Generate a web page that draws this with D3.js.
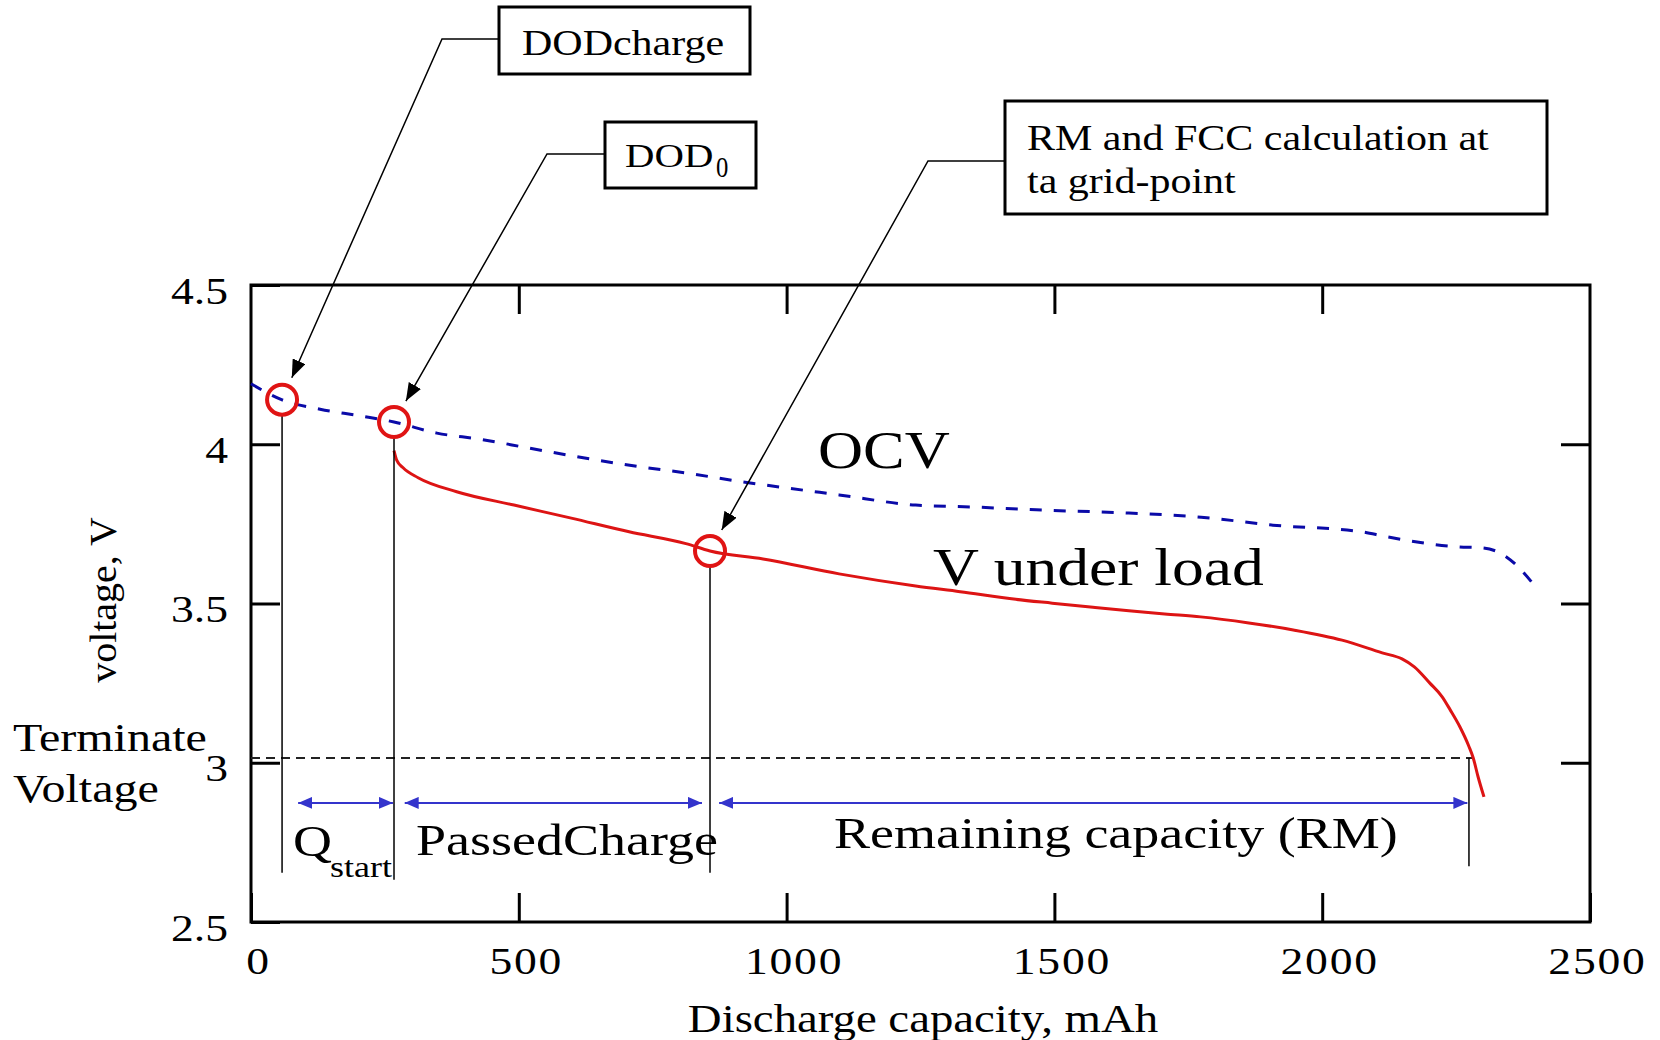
<!DOCTYPE html>
<html>
<head>
<meta charset="utf-8">
<script src="https://cdn.jsdelivr.net/npm/d3@7"></script>
<style>
  html, body { margin: 0; padding: 0; background: #ffffff; }
  svg { display: block; }
  text { font-family: "Liberation Serif", "Times New Roman", serif; fill: #000; }
</style>
</head>
<body>
<svg id="chart" width="1660" height="1040"></svg>
<script>
// Open-circuit voltage (dashed blue), mAh / V
const ocvCapacity = [0, 57, 129, 200, 267, 347, 427, 519, 612, 727, 812, 905, 999, 1098, 1241, 1348, 1466, 1639, 1774, 1908, 2074, 2119, 2254, 2298, 2336, 2366, 2401];
const ocvVoltage  = [4.19, 4.14, 4.11, 4.09, 4.07, 4.035, 4.016, 3.988, 3.96, 3.929, 3.91, 3.885, 3.863, 3.841, 3.809, 3.803, 3.794, 3.784, 3.771, 3.746, 3.725, 3.71, 3.678, 3.675, 3.655, 3.615, 3.546];

// Terminal voltage under load (solid red), mAh / V
const loadCapacity = [267, 272, 284, 312, 384, 491, 598, 706, 812, 857, 956, 1098, 1241, 1324, 1428, 1496, 1572, 1639, 1706, 1773, 1863, 1946, 2037, 2112, 2149, 2172, 2201, 2224, 2239, 2257, 2274, 2282, 2291, 2302];
const loadVoltage  = [3.98, 3.95, 3.926, 3.895, 3.851, 3.809, 3.768, 3.725, 3.688, 3.665, 3.64, 3.593, 3.555, 3.537, 3.513, 3.501, 3.488, 3.477, 3.467, 3.458, 3.439, 3.417, 3.385, 3.345, 3.326, 3.301, 3.25, 3.207, 3.166, 3.113, 3.051, 3.015, 2.956, 2.893];

// Axis ticks
const xTickValues = [0, 500, 1000, 1500, 2000, 2500];
const yTickValues = [2.5, 3, 3.5, 4, 4.5];
const xInnerTicks = [500, 1000, 1500, 2000];
const yInnerTicks = [3, 3.5, 4];

// Key states on the curves
const terminateVoltage = 3.015;
const markerNames    = ["DODcharge", "DOD0", "grid-point"];
const markerCapacity = [58, 267, 857];
const markerVoltage  = [4.14, 4.07, 3.665];
const endCapacity    = 2274;          // load curve reaches the terminate voltage
const guideBottomVoltage = [2.655, 2.633, 2.655, 2.675];

// Capacity spans (double arrows)
const spanNames = ["Qstart", "PassedCharge", "Remaining capacity (RM)"];
const spanStart = [88, 287, 874];
const spanEnd   = [265, 842, 2271];
const spanVoltage = 2.874;

const svg = d3.select("#chart");
const x = d3.scaleLinear().domain([0, 2500]).range([251, 1590]);
const y = d3.scaleLinear().domain([2.5, 4.5]).range([922, 285]);

const SX = 1.2; // wide serif lettering
function label(parent, px, py, str, size, anchor, sx) {
  return parent.append("text")
    .attr("transform", `translate(${px},${py}) scale(${sx === undefined ? SX : sx},1)`)
    .attr("font-size", size)
    .attr("text-anchor", anchor || "start")
    .text(str);
}

const defs = svg.append("defs");
defs.append("marker")
  .attr("id", "blackHead").attr("markerUnits", "userSpaceOnUse")
  .attr("viewBox", "0 0 18 14").attr("markerWidth", 18).attr("markerHeight", 14)
  .attr("refX", 18).attr("refY", 7).attr("orient", "auto")
  .append("path").attr("d", "M0,0 L18,7 L0,14 Z").attr("fill", "#000");
defs.append("marker")
  .attr("id", "blueHead").attr("markerUnits", "userSpaceOnUse")
  .attr("viewBox", "0 0 14 12").attr("markerWidth", 14).attr("markerHeight", 12)
  .attr("refX", 14).attr("refY", 6).attr("orient", "auto-start-reverse")
  .append("path").attr("d", "M0,0 L14,6 L0,12 Z").attr("fill", "#3434cc");

// ---- axes ----
const axisFont = 38;
const gBottom = svg.append("g").attr("transform", `translate(0,${y(2.5)})`)
  .call(d3.axisBottom(x).tickValues(xTickValues).tickSize(-29).tickFormat(d3.format("d")));
gBottom.select(".domain").remove();
gBottom.attr("font-family", null).attr("font-size", axisFont);
gBottom.selectAll(".tick line").attr("stroke", "#000").attr("stroke-width", 3);
gBottom.selectAll(".tick text").attr("y", null).attr("dy", null)
  .attr("letter-spacing", 1.5)
  .attr("transform", `translate(7,52) scale(${SX},1)`);

const gLeft = svg.append("g").attr("transform", `translate(${x(0)},0)`)
  .call(d3.axisLeft(y).tickValues(yTickValues).tickSize(-29).tickFormat(String));
gLeft.select(".domain").remove();
gLeft.attr("font-family", null).attr("font-size", axisFont);
gLeft.selectAll(".tick line").attr("stroke", "#000").attr("stroke-width", 3);
gLeft.selectAll(".tick text").attr("x", null).attr("dy", null)
  .attr("transform", `translate(-23,18) scale(${SX},1)`);

const gTop = svg.append("g").attr("transform", `translate(0,${y(4.5)})`)
  .call(d3.axisTop(x).tickValues(xInnerTicks).tickSize(-29).tickFormat(""));
gTop.select(".domain").remove();
gTop.selectAll(".tick line").attr("stroke", "#000").attr("stroke-width", 3);

const gRight = svg.append("g").attr("transform", `translate(${x(2500)},0)`)
  .call(d3.axisRight(y).tickValues(yInnerTicks).tickSize(-29).tickFormat(""));
gRight.select(".domain").remove();
gRight.selectAll(".tick line").attr("stroke", "#000").attr("stroke-width", 3);

svg.append("rect")
  .attr("x", x(0)).attr("y", y(4.5))
  .attr("width", x(2500) - x(0)).attr("height", y(2.5) - y(4.5))
  .attr("fill", "none").attr("stroke", "#000").attr("stroke-width", 3);

// axis titles
label(svg, 923, 1032, "Discharge capacity, mAh", 39, "middle");
svg.append("text")
  .attr("transform", `translate(116,600) rotate(-90) scale(1.05,1)`)
  .attr("font-size", 38).attr("text-anchor", "middle")
  .text("voltage, V");
label(svg, 13, 751, "Terminate", 40, "start");
label(svg, 13, 802, "Voltage", 40, "start");

// ---- terminate voltage line ----
svg.append("line")
  .attr("x1", x(0)).attr("x2", x(2280))
  .attr("y1", y(terminateVoltage)).attr("y2", y(terminateVoltage))
  .attr("stroke", "#222").attr("stroke-width", 2).attr("stroke-dasharray", "9,6");

// ---- curves ----
const ocvData = ocvCapacity.map((c, i) => [c, ocvVoltage[i]]);
const loadData = loadCapacity.map((c, i) => [c, loadVoltage[i]]);
const line = d3.line().x(d => x(d[0])).y(d => y(d[1])).curve(d3.curveMonotoneX);

svg.append("path").datum(ocvData).attr("d", line)
  .attr("fill", "none").attr("stroke", "#0a0aa8").attr("stroke-width", 3)
  .attr("stroke-dasharray", "12,12");
svg.append("path").datum(loadData).attr("d", line)
  .attr("fill", "none").attr("stroke", "#dd1414").attr("stroke-width", 3);

// ---- vertical guides ----
const R = 15;
const guideX = markerCapacity.concat([endCapacity]);
const guideTop = markerVoltage.map(v => y(v) + R).concat([y(terminateVoltage)]);
guideX.forEach((c, i) => {
  svg.append("line")
    .attr("x1", x(c)).attr("x2", x(c))
    .attr("y1", guideTop[i]).attr("y2", y(guideBottomVoltage[i]))
    .attr("stroke", "#000").attr("stroke-width", 1.5);
});

// ---- marker circles ----
markerCapacity.forEach((c, i) => {
  svg.append("circle")
    .attr("cx", x(c)).attr("cy", y(markerVoltage[i])).attr("r", R)
    .attr("fill", "none").attr("stroke", "#e01414").attr("stroke-width", 4);
});

// ---- capacity spans ----
spanStart.forEach((s, i) => {
  svg.append("line")
    .attr("x1", x(s)).attr("x2", x(spanEnd[i]))
    .attr("y1", y(spanVoltage)).attr("y2", y(spanVoltage))
    .attr("stroke", "#3434cc").attr("stroke-width", 2)
    .attr("marker-start", "url(#blueHead)").attr("marker-end", "url(#blueHead)");
});
label(svg, 293, 856, "Q", 45, "start");
label(svg, 330, 877, "start", 30, "start");
label(svg, 416, 855, "PassedCharge", 45, "start");
label(svg, 834, 848, "Remaining capacity (RM)", 45, "start");

// curve names
label(svg, 818, 468, "OCV", 52, "start");
label(svg, 933, 585, "V under load", 53, "start");

// ---- callout boxes with leaders ----
const callouts = [
  { box: [499, 7, 251, 67],   corner: [442, 39] },
  { box: [605, 122, 151, 66], corner: [547, 154] },
  { box: [1005, 101, 542, 113], corner: [928, 161] }
];
callouts.forEach((co, i) => {
  const [bx, by, bw, bh] = co.box;
  const [cx0, cy0] = co.corner;
  const tx = x(markerCapacity[i]), ty = y(markerVoltage[i]);
  const dx = tx - cx0, dy = ty - cy0, len = Math.hypot(dx, dy);
  const stop = len - (R + 9);
  const ex = cx0 + dx / len * stop, ey = cy0 + dy / len * stop;
  svg.append("path")
    .attr("d", `M${bx},${cy0} L${cx0},${cy0} L${ex},${ey}`)
    .attr("fill", "none").attr("stroke", "#000").attr("stroke-width", 1.5)
    .attr("marker-end", "url(#blackHead)");
  svg.append("rect")
    .attr("x", bx).attr("y", by).attr("width", bw).attr("height", bh)
    .attr("fill", "#fff").attr("stroke", "#000").attr("stroke-width", 3);
});
label(svg, 522, 55, "DODcharge", 35, "start");
label(svg, 625, 167, "DOD", 34, "start");
label(svg, 716, 177, "0", 29, "start", 0.85);
label(svg, 1027, 150, "RM and FCC calculation at", 35, "start");
label(svg, 1027, 193, "ta grid-point", 35, "start");
</script>
</body>
</html>
